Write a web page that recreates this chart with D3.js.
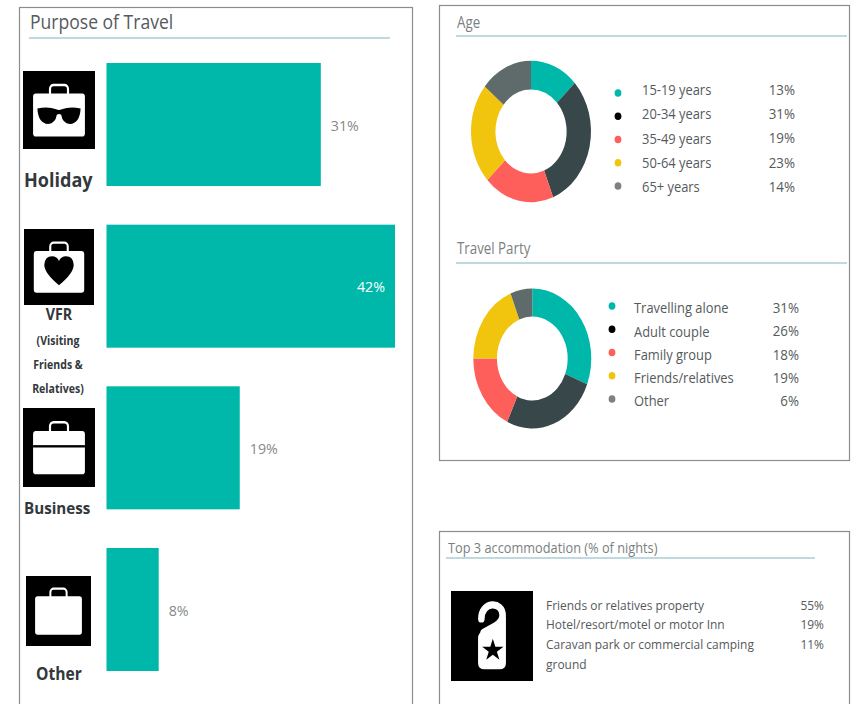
<!DOCTYPE html>
<html><head><meta charset="utf-8">
<script src="https://cdnjs.cloudflare.com/ajax/libs/d3/7.9.0/d3.min.js"></script>
<style>html,body{margin:0;padding:0;background:#fff}svg{display:block}text{font-family:"Open Sans",sans-serif}</style>
</head><body><svg id="c" width="856" height="704"></svg>
<script>
const purposeCats=["Holiday","VFR","Business","Other"];
const purposeVals=[31.2,42,19.4,7.6];
const ageCats=["15-19 years","20-34 years","35-49 years","50-64 years","65+ years"];
const ageVals=[13,31,19,23,14];
const partyCats=["Travelling alone","Adult couple","Family group","Friends/relatives","Other"];
const partyVals=[31,26,18,19,6];
const accomCats=["Friends or relatives property","Hotel/resort/motel or motor Inn","Caravan park or commercial camping","ground"];
const accomVals=["55%","19%","11%",""];
const sliceColors=["#00b8a9","#37474a","#ff5f5b","#f1c50e","#5f6b6b"];
const dotColors=["#00b8a9","#000000","#ff5f5b","#f1c50e","#808080"];
const TEAL="#00b8a9",RULE="#a9ccd6",BORDER="#8c8c8c",TXT="#555a5c",HEAD="#33383c";

const svg=d3.select("#c");
function label(g,x,y,s,o={}){
  const sx=o.sx||0.9;
  return g.append("text").attr("transform",`translate(${x},${y}) scale(${sx},1)`)
    .attr("text-anchor",o.anchor||"start").attr("dominant-baseline","central")
    .attr("font-size",o.size||14).attr("font-weight",o.weight||400).attr("fill",o.fill||TXT).text(s);
}
function panel(x0,y0,x1,y1){svg.append("rect").attr("x",x0+.5).attr("y",y0+.5).attr("width",x1-x0).attr("height",y1-y0).attr("fill","none").attr("stroke",BORDER).attr("stroke-width",1.2);}
function rule(x0,x1,y){svg.append("line").attr("x1",x0).attr("x2",x1).attr("y1",y).attr("y2",y).attr("stroke",RULE).attr("stroke-width",1.6);}

panel(19,7,412,720);panel(439,5,849,460);panel(439,531,849,720);

// Purpose of travel
label(svg,30,21,"Purpose of Travel",{size:19.5,sx:.9});rule(29,390,38);
const y=d3.scaleBand().domain(purposeCats).range([63,671]).paddingInner(.239).paddingOuter(0);
const x=d3.scaleLinear().domain([0,42]).range([0,288.5]);
const barLeft=106.5;
const bh=y.bandwidth();
svg.selectAll("rect.bar").data(purposeVals).join("rect").attr("class","bar")
  .attr("x",barLeft).attr("y",(d,i)=>y(purposeCats[i])).attr("width",d=>x(d)).attr("height",bh).attr("fill",TEAL);
purposeVals.forEach((v,i)=>{
  const cy=y(purposeCats[i])+bh/2, end=barLeft+x(v), s=Math.round(v)+"%";
  if(v===d3.max(purposeVals)) label(svg,end-10,cy,s,{anchor:"end",size:15,fill:"#fff",sx:.95});
  else label(svg,end+10,cy,s,{size:15,fill:"#85898b",sx:.95});
});

function bag(g,withLine){
  g.append("rect").attr("x",37.5).attr("y",18).attr("width",25).attr("height",17).attr("rx",5).attr("fill","none").attr("stroke","#fff").attr("stroke-width",3);
  g.append("rect").attr("x",14).attr("y",29).attr("width",72).attr("height",55).attr("rx",4).attr("fill","#fff");
  if(withLine) g.append("rect").attr("x",14).attr("y",47).attr("width",72).attr("height",3).attr("fill","#000");
}
function iconBox(x0,y0,x1,y1){
  svg.append("rect").attr("x",x0).attr("y",y0).attr("width",x1-x0).attr("height",y1-y0).attr("fill","#000");
  return svg.append("g").attr("transform",`translate(${x0},${y0}) scale(${(x1-x0)/100},${(y1-y0)/100})`);
}
let g=iconBox(23,71,95,149);bag(g);
g.append("path").attr("fill","#000").attr("d","M20 48 Q35 45 46 49 Q50 51 54 49 Q65 45 80 48 Q79 67 65 68 Q55 67 53 56 Q50 54 47 56 Q45 67 35 68 Q21 67 20 48Z");
g=iconBox(24,229,94,305);bag(g);
g.append("path").attr("fill","#000").attr("d","M50 74 Q29 58 29 47 Q30 36 40 36 Q47 36 50 42 Q53 36 60 36 Q70 36 71 47 Q71 58 50 74Z");
g=iconBox(23,408,95,487);bag(g,true);
g=iconBox(26,576,91,646);bag(g);
g=iconBox(451,591,533,681);
g.append("path").attr("fill","none").attr("stroke","#fff").attr("stroke-width",8).attr("stroke-linecap","round")
  .attr("d","M37 31 C37 11 63 11 63 27 C63 37 50 40 40 46");
g.append("path").attr("fill","#fff").attr("d","M33 52 L33 80 Q33 87 41 87 L59 87 Q67 87 67 80 L67 28 L60 38 L40 43 Q33 47 33 52 Z");
g.append("path").attr("fill","#000").attr("d",d3.symbol(d3.symbolStar,210)()).attr("transform","translate(51,66) scale(1,.95)");

label(svg,24,179,"Holiday",{size:19,weight:700,fill:HEAD,sx:.95});
label(svg,59,314,"VFR",{size:15.5,weight:700,fill:HEAD,anchor:"middle",sx:.92});
[["(Visiting",340],["Friends &",364],["Relatives)",388]].forEach(([s,yy])=>label(svg,58,yy,s,{size:11.5,weight:700,fill:HEAD,anchor:"middle",sx:.92}));
label(svg,24,508,"Business",{size:16.5,weight:700,fill:HEAD,sx:.92});
label(svg,59,674,"Other",{size:17,weight:700,fill:HEAD,anchor:"middle",sx:.92});

// Donuts
function donut(cx,cy,rx,ry,innerRy,vals){
  const pie=d3.pie().sort(null)(vals);
  const arc=d3.arc().innerRadius(innerRy).outerRadius(ry);
  svg.append("g").attr("transform",`translate(${cx},${cy}) scale(${rx/ry},1)`)
    .selectAll("path").data(pie).join("path").attr("d",arc).attr("fill",(d,i)=>sliceColors[i]);
}
function legend(cats,vals,yRange,dotRange,dotX,textX,pctX){
  const ly=d3.scalePoint().domain(cats).range(yRange);
  const dy=d3.scalePoint().domain(cats).range(dotRange);
  cats.forEach((c,i)=>{
    svg.append("ellipse").attr("cx",dotX).attr("cy",dy(c)).attr("rx",3.4).attr("ry",3.8).attr("fill",dotColors[i]);
    label(svg,textX,ly(c),c,{size:14.5,sx:.89});
    label(svg,pctX,ly(c),vals[i]+"%",{size:14.5,anchor:"end",sx:.92});
  });
}
label(svg,457,22,"Age",{size:15.5,sx:.86,fill:"#7a7f81"});rule(456,847,36);
donut(531,131.5,60,70.7,42,ageVals);
legend(ageCats,ageVals,[89.5,186],[93,186],618,642,795);
label(svg,457,248,"Travel Party",{size:15.5,sx:.86,fill:"#7a7f81"});rule(456,847,263);
donut(532.3,358.5,59,70,42,partyVals);
legend(partyCats,partyVals,[307.5,400.5],[306,399],612,634,799);

// Accommodation
label(svg,448,548,"Top 3 accommodation (% of nights)",{size:14,sx:.913,fill:"#7a7f81"});rule(446,815,558);
const ay=d3.scalePoint().domain(accomCats).range([605,664]);
accomCats.forEach((c,i)=>{
  label(svg,546,ay(c),c,{size:13,sx:.92});
  if(accomVals[i]) label(svg,824,ay(c),accomVals[i],{size:13,anchor:"end",sx:.92});
});
</script></body></html>
